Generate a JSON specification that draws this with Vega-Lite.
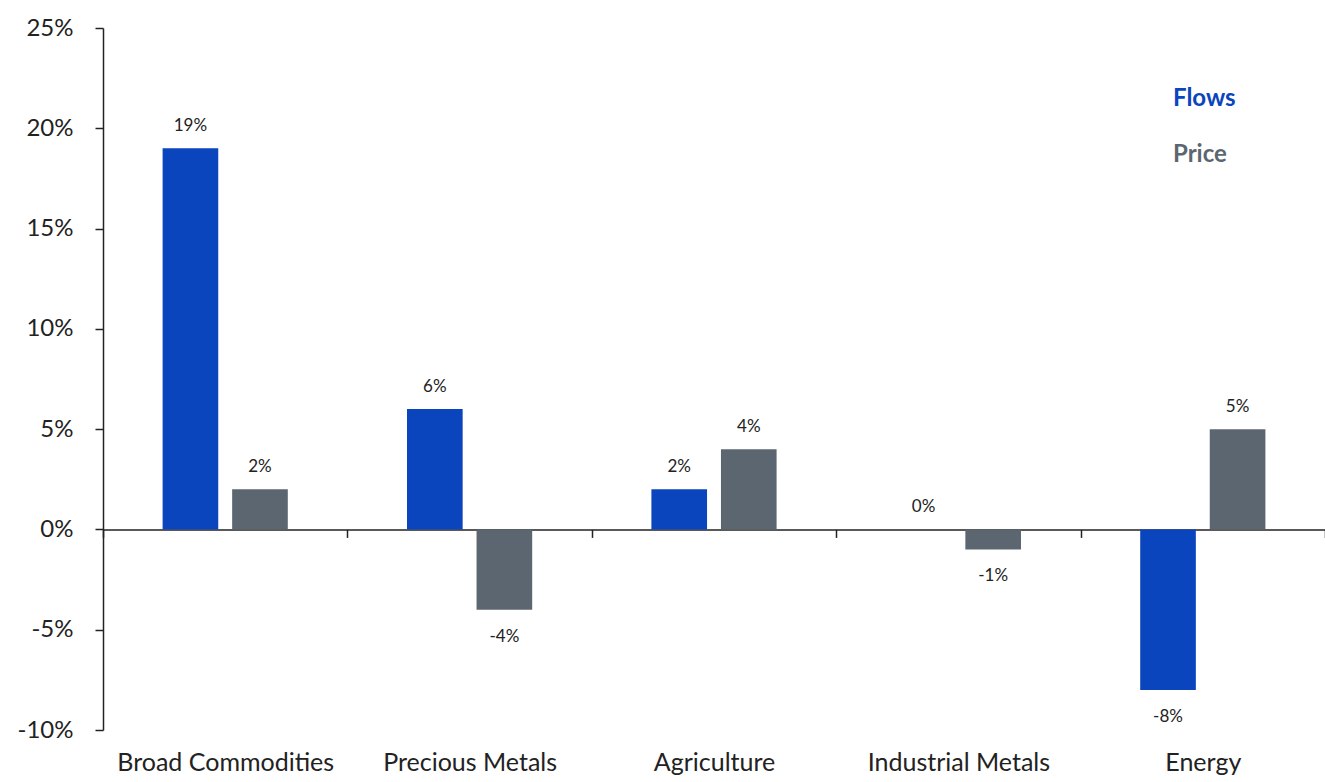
{
  "$schema": "https://vega.github.io/schema/vega-lite/v6.json",
  "autosize": {"type": "none"},
  "padding": {"left": 103, "top": 28, "right": 0, "bottom": 52},
  "width": 1222,
  "height": 702,
  "background": "white",
  "config": {
    "view": {"stroke": null},
    "font": "Lato",
    "axis": {"grid": false},
    "locale": {
      "number": {"decimal": ".", "thousands": ",", "grouping": [3], "currency": ["$", ""], "minus": "-"}
    }
  },
  "data": {
    "values": [
      {"category": "Broad Commodities", "series": "Flows", "value": 0.19},
      {"category": "Broad Commodities", "series": "Price", "value": 0.02},
      {"category": "Precious Metals", "series": "Flows", "value": 0.06},
      {"category": "Precious Metals", "series": "Price", "value": -0.04},
      {"category": "Agriculture", "series": "Flows", "value": 0.02},
      {"category": "Agriculture", "series": "Price", "value": 0.04},
      {"category": "Industrial Metals", "series": "Flows", "value": 0.0},
      {"category": "Industrial Metals", "series": "Price", "value": -0.01},
      {"category": "Energy", "series": "Flows", "value": -0.08},
      {"category": "Energy", "series": "Price", "value": 0.05}
    ]
  },
  "encoding": {
    "x": {
      "field": "category",
      "type": "nominal",
      "sort": null,
      "scale": {"paddingInner": 0, "paddingOuter": 0},
      "axis": {
        "title": null,
        "labelAngle": 0,
        "labelLimit": 0,
        "offset": -200.6,
        "domainColor": "#222222",
        "domainWidth": 1.5,
        "tickColor": "#222222",
        "tickWidth": 1.5,
        "tickSize": 8,
        "tickBand": "extent",
        "labelPadding": 213,
        "labelFontSize": 25,
        "labelColor": "#222222",
        "labelFont": "Lato"
      }
    },
    "xOffset": {
      "field": "series",
      "type": "nominal",
      "sort": ["Flows", "Price"],
      "scale": {"paddingInner": 0.2, "paddingOuter": 0.857}
    },
    "y": {
      "field": "value",
      "type": "quantitative",
      "scale": {"domain": [-0.1, 0.25], "nice": false, "zero": false},
      "axis": {
        "title": null,
        "format": ".0%",
        "values": [-0.1, -0.05, 0, 0.05, 0.1, 0.15, 0.2, 0.25],
        "domainColor": "#222222",
        "domainWidth": 1.5,
        "tickColor": "#222222",
        "tickWidth": 1.5,
        "tickSize": 8,
        "labelPadding": 22,
        "labelFontSize": 24,
        "labelColor": "#222222"
      }
    }
  },
  "layer": [
    {
      "mark": {"type": "bar"},
      "encoding": {
        "color": {
          "field": "series",
          "type": "nominal",
          "scale": {"domain": ["Flows", "Price"], "range": ["#0A45BD", "#5C6670"]},
          "legend": {
            "title": null,
            "orient": "none",
            "legendX": 1046,
            "legendY": 59,
            "symbolSize": 0,
            "symbolOpacity": 0,
            "symbolStrokeWidth": 0,
            "labelFontSize": 24,
            "labelFontWeight": "bold",
            "rowPadding": 32,
            "labelOffset": 0,
            "encode": {
              "labels": {
                "update": {
                  "fill": {"signal": "datum.label == 'Flows' ? '#0A45BD' : '#5C6670'"}
                }
              }
            }
          }
        }
      }
    },
    {
      "transform": [{"filter": "datum.value >= 0"}],
      "mark": {"type": "text", "fontSize": 17, "color": "#222222", "baseline": "middle", "dy": -22},
      "encoding": {
        "text": {"field": "value", "type": "quantitative", "format": ".0%"}
      }
    },
    {
      "transform": [{"filter": "datum.value < 0"}],
      "mark": {"type": "text", "fontSize": 17, "color": "#222222", "baseline": "middle", "dy": 27},
      "encoding": {
        "text": {"field": "value", "type": "quantitative", "format": ".0%"}
      }
    }
  ]
}
